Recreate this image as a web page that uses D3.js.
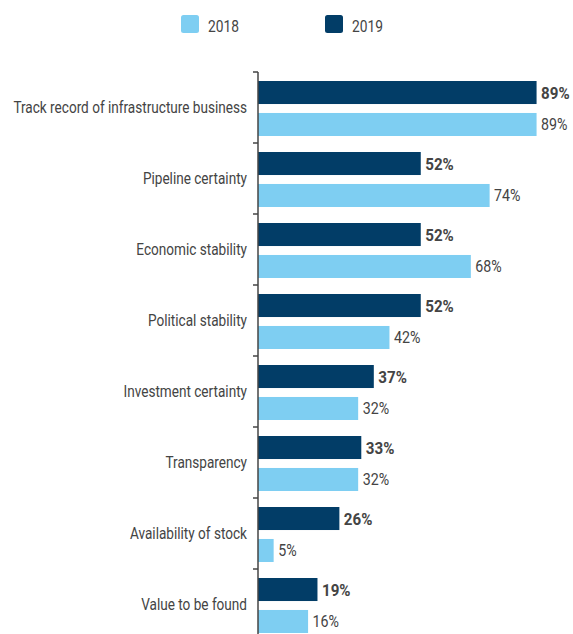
<!DOCTYPE html>
<html>
<head>
<meta charset="utf-8">
<script src="https://cdn.jsdelivr.net/npm/d3@7"></script>
<style>
  html, body { margin: 0; padding: 0; background: #fff; }
  svg { display: block; }
  text { font-family: "Roboto", "Liberation Sans", sans-serif; fill: #444; }
</style>
</head>
<body>
<svg id="chart" width="573" height="634"></svg>
<script>
const categories = [
  "Track record of infrastructure business",
  "Pipeline certainty",
  "Economic stability",
  "Political stability",
  "Investment certainty",
  "Transparency",
  "Availability of stock",
  "Value to be found"
];
const series = ["2019", "2018"];
const values2019 = [89, 52, 52, 52, 37, 33, 26, 19];
const values2018 = [89, 74, 68, 42, 32, 32, 5, 16];
const legendLabels = ["2018", "2019"];

const colors = { "2018": "#7ecef2", "2019": "#023d67" };

// Narrow the type horizontally to get a condensed face
const sxLabel = 0.85;
const sxValue = 0.89;

const svg = d3.select("#chart");
const axisX = 258;
const plotTop = 72;
const band = 71;

const y = d3.scaleBand()
  .domain(categories)
  .range([plotTop, plotTop + band * categories.length])
  .paddingInner(0)
  .paddingOuter(0);

const x = d3.scaleLinear().domain([0, 100]).range([axisX, axisX + 313]);

const inner = d3.scaleBand()
  .domain(series)
  .range([9, band - 7])
  .paddingInner(0.28);

const rows = categories.map((c, i) => ({
  cat: c,
  vals: [
    { s: "2019", v: values2019[i] },
    { s: "2018", v: values2018[i] }
  ]
}));

const g = svg.selectAll("g.row").data(rows).join("g")
  .attr("class", "row")
  .attr("transform", d => `translate(0,${y(d.cat)})`);

g.selectAll("rect").data(d => d.vals).join("rect")
  .attr("x", x(0))
  .attr("y", d => inner(d.s))
  .attr("width", d => x(d.v) - x(0))
  .attr("height", inner.bandwidth())
  .attr("fill", d => colors[d.s]);

g.selectAll("text.val").data(d => d.vals).join("text")
  .attr("class", "val")
  .attr("transform", `scale(${sxValue},1)`)
  .attr("x", d => (x(d.v) + 4.5) / sxValue)
  .attr("y", d => inner(d.s) + inner.bandwidth() / 2)
  .attr("dy", "0.36em")
  .attr("font-size", d => d.s === "2019" ? 17 : 16)
  .attr("font-weight", d => d.s === "2019" ? "bold" : "normal")
  .text(d => d.v + "%");

// Category axis on the left
const axis = d3.axisLeft(y).tickSize(0).tickPadding(0);
const axisG = svg.append("g")
  .attr("transform", `translate(${axisX},0)`)
  .call(axis);
axisG.select(".domain").remove();
axisG.selectAll("text")
  .attr("transform", `scale(${sxLabel},1)`)
  .attr("x", -11 / sxLabel)
  .attr("dy", "0.36em")
  .attr("font-size", 16)
  .style("font-family", '"Roboto", sans-serif')
  .attr("fill", "#444");

svg.append("line")
  .attr("x1", axisX).attr("x2", axisX)
  .attr("y1", plotTop).attr("y2", 634)
  .attr("stroke", "#444").attr("stroke-width", 1.5);

const boundaries = d3.range(categories.length).map(i => plotTop + i * band);
svg.selectAll("line.sep").data(boundaries).join("line")
  .attr("class", "sep")
  .attr("x1", axisX - 5).attr("x2", axisX)
  .attr("y1", d => d).attr("y2", d => d)
  .attr("stroke", "#444").attr("stroke-width", 1.5);

// Legend
const legendX = d3.scalePoint().domain(legendLabels).range([181, 325]);
const lg = svg.selectAll("g.legend").data(legendLabels).join("g")
  .attr("class", "legend")
  .attr("transform", d => `translate(${legendX(d)},15)`);
lg.append("rect")
  .attr("width", 18).attr("height", 18).attr("rx", 2.5)
  .attr("fill", d => colors[d]);
lg.append("text")
  .attr("transform", "scale(0.81,1)")
  .attr("x", 27 / 0.81).attr("y", 10.5).attr("dy", "0.36em")
  .attr("font-size", 17)
  .text(d => d);
</script>
</body>
</html>
